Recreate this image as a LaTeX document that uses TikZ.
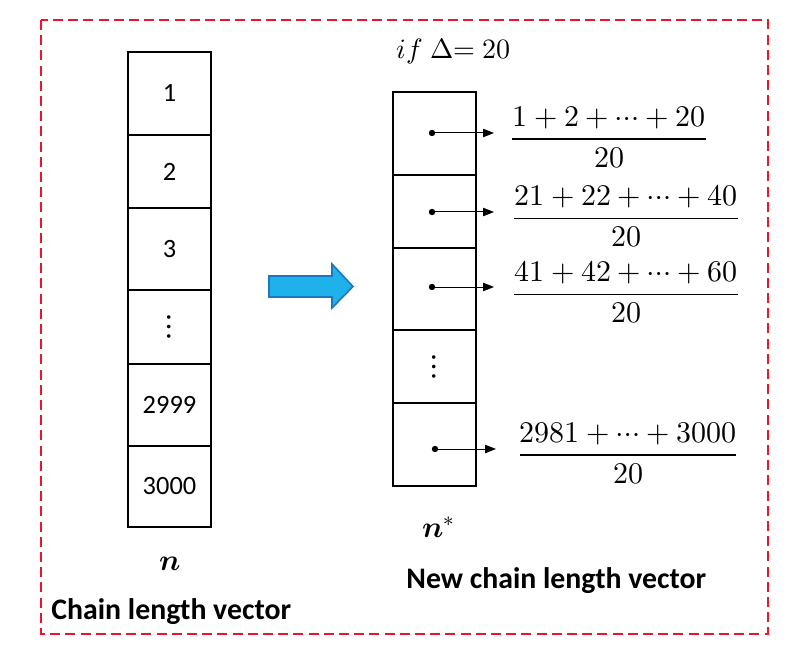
\documentclass[tikz,border=0pt]{standalone}
\usepackage{fontspec}
\usepackage{unicode-math}
\newfontfamily\calib{Carlito}
\usetikzlibrary{arrows.meta}
\definecolor{framered}{HTML}{F0142A}
\definecolor{arrowfill}{HTML}{1FB1EA}
\definecolor{arrowline}{HTML}{1B78C0}
\begin{document}
\begin{tikzpicture}[x=0.5pt,y=-0.5pt,
  cell/.style={draw=black, line width=1pt, minimum width=41.5pt, inner sep=0pt,
               font=\calib\fontsize{13.2}{15}\selectfont},
  ptr/.style={circle, fill=black, inner sep=0pt, minimum size=3.2pt},
  ptrline/.style={line width=0.5pt, -{Triangle[length=5.5pt,width=4.2pt]}},
  frac/.style={inner sep=0pt, font=\fontsize{15}{18}\selectfont},
  boldlabel/.style={inner sep=0pt, font=\calib\bfseries\fontsize{14.9}{17}\selectfont},
  vecname/.style={inner sep=0pt, font=\fontsize{15}{18}\selectfont}]
\useasboundingbox (0,0) rectangle (802,668);
% frame
\draw[framered, line width=1pt, dash pattern=on 5pt off 2.6pt] (41,20) rectangle (768,634);

% left column
\node[cell, minimum height=41.5pt] (l1) at (169.5,93.5) {1};
\node[cell, minimum height=36.5pt] (l2) at (169.5,171.5) {2};
\node[cell, minimum height=41pt]   (l3) at (169.5,249) {3};
\node[cell, minimum height=37pt]   (l4) at (169.5,327) {\fontsize{17}{19}\selectfont$\vdots$};
\node[cell, minimum height=41pt]   (l5) at (169.5,405) {2999};
\node[cell, minimum height=40.5pt] (l6) at (169.5,486.5) {3000};
\node[vecname, anchor=base] (n) at (170,570) {$\symbfit{n}$};
\node[boldlabel, anchor=base west] (cl) at (51,619) {Chain length vector};

% blue arrow
\draw[fill=arrowfill, draw=arrowline, line width=0.8pt, line join=miter]
  (269,276) -- (332,276) -- (332,264) -- (353,286.5) -- (332,308) -- (332,297) -- (269,297) -- cycle;

% right column
\node[anchor=base west, inner sep=0pt, font=\fontsize{14}{16}\selectfont] (cond) at (396,59) {$if\;\Delta\mathord{=}\;20$};
\node[cell, minimum height=41.5pt] (r1) at (434.5,133.5) {};
\node[cell, minimum height=36.5pt] (r2) at (434.5,211.5) {};
\node[cell, minimum height=41pt]   (r3) at (434.5,289) {};
\node[cell, minimum height=36.5pt] (r4) at (434.5,366.5) {\fontsize{17}{19}\selectfont$\vdots$};
\node[cell, minimum height=41.5pt] (r5) at (434.5,444.5) {};

\node[ptr] (d1) at (432,133) {};
\node[ptr] (d2) at (432,212) {};
\node[ptr] (d3) at (432,287) {};
\node[ptr] (d5) at (435,449) {};
\coordinate (t1) at (494,133);
\coordinate (t2) at (494,212);
\coordinate (t3) at (494,287);
\coordinate (t5) at (496,449);
\draw[ptrline] (d1.center) -- (t1);
\draw[ptrline] (d2.center) -- (t2);
\draw[ptrline] (d3.center) -- (t3);
\draw[ptrline] (d5.center) -- (t5);

\node[frac] (f1) at (609,137) {$\vcenter{\hbox{$\displaystyle\frac{1+2+\cdots+20}{20}$}}$};
\node[frac] (f2) at (626,216) {$\vcenter{\hbox{$\displaystyle\frac{21+22+\cdots+40}{20}$}}$};
\node[frac] (f3) at (626,292) {$\vcenter{\hbox{$\displaystyle\frac{41+42+\cdots+60}{20}$}}$};
\node[frac] (f5) at (628,453) {$\vcenter{\hbox{$\displaystyle\frac{2981+\cdots+3000}{20}$}}$};

\node[vecname, anchor=base west] (ns) at (422,537) {$\symbfit{n}^{*}$};
\node[boldlabel, anchor=base west] (ncl) at (406,588) {New chain length vector};
\end{tikzpicture}
\end{document}
